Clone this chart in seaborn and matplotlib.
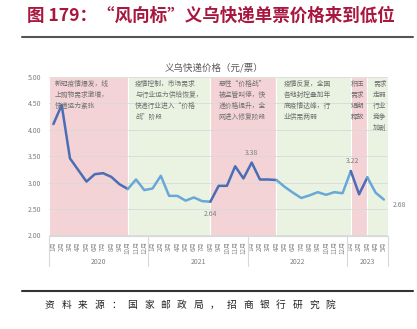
import numpy as np
import pandas as pd
import matplotlib
matplotlib.use("Agg")
import matplotlib.pyplot as plt
from matplotlib.lines import Line2D
import seaborn as sns

sns.set_theme(style="white")
plt.rcParams["font.family"] = ["Noto Sans CJK SC", "DejaVu Sans"]
plt.rcParams["axes.unicode_minus"] = False

# Monthly Yiwu express price (yuan per parcel), Jan 2020 - May 2023
years = ["2020", "2021", "2022", "2023"]
months_per_year = [12, 12, 12, 5]
price = [4.11, 4.47, 3.46, 3.24, 3.02, 3.16, 3.18, 3.11, 2.97, 2.88, 3.06, 2.86,
         2.89, 3.13, 2.75, 2.75, 2.66, 2.72, 2.65, 2.64, 2.94, 2.94, 3.31, 3.08,
         3.38, 3.06, 3.06, 3.05, 2.92, 2.81, 2.71, 2.76, 2.82, 2.77, 2.82, 2.80,
         3.22, 2.78, 3.10, 2.81, 2.68]

# Market phases: (first month index, last month index, kind)
phase_start = [0, 9, 19, 27, 36, 38]
phase_end = [9, 19, 27, 36, 38, 40]
phase_kind = ["pink", "green", "pink", "green", "pink", "green"]
phase_text = [
    "新冠疫情爆发，线\n上购物需求激增，\n快递运力紧张",
    "疫情控制，市场需求\n与行业运力供给恢复，\n快递行业进入“价格\n战”阶段",
    "恶性“价格战”\n被监管叫停，快\n递价格提升，全\n网进入修复阶段",
    "疫情反复，全国\n各地封控叠加年\n底疫情达峰，行\n业供需两弱",
    "积压\n需求\n短期\n释放",
    "需求\n走弱\n行业\n竞争\n加剧",
]

# Months whose value is printed next to the line
label_idx = [19, 24, 36, 40]

bg_color = {"pink": "#f3d3d6", "green": "#eaf2e2"}
line_color = {"pink": "#4a6db3", "green": "#68a8d8"}

month_labels = [f"{m}月" for n in months_per_year for m in range(1, n + 1)]
n = len(price)
x = np.arange(n)

# Long table: one group per phase, each sharing its end points with neighbours
rows = []
for k, (a, b, kind) in enumerate(zip(phase_start, phase_end, phase_kind)):
    for i in range(a, b + 1):
        rows.append({"idx": i, "price": price[i], "seg": f"s{k}", "kind": kind})
df = pd.DataFrame(rows)
palette = {f"s{k}": line_color[kind] for k, kind in enumerate(phase_kind)}

W, H = 417, 329
fig = plt.figure(figsize=(W / 100, H / 100), dpi=100)
ax = fig.add_axes([49.3 / W, 1 - 235.5 / H, (388 - 49.3) / W, (235.5 - 77) / H])

# Phase backgrounds
for k, (a, b, kind) in enumerate(zip(phase_start, phase_end, phase_kind)):
    lo = -0.5 if k == 0 else a
    hi = n - 0.5 if k == len(phase_start) - 1 else b
    ax.axvspan(lo, hi, facecolor=bg_color[kind], edgecolor="white",
               linewidth=0.8, zorder=0.1)

sns.lineplot(data=df, x="idx", y="price", hue="seg", palette=palette,
             units="seg", estimator=None, sort=False, linewidth=1.8,
             legend=False, ax=ax, zorder=3)

ax.set_xlim(-0.5, n - 0.5)
ax.set_ylim(2.0, 5.0)
ax.set_yticks(np.arange(2.0, 5.01, 0.5))
ax.set_yticklabels([f"{v:.2f}" for v in np.arange(2.0, 5.01, 0.5)],
                   fontsize=5, color="#7f7f7f")
ax.set_axisbelow(True)
ax.yaxis.grid(True, color="#d9d9d9", linewidth=0.6)
ax.tick_params(axis="y", length=0, pad=6)
ax.set_xticks(x)
ax.set_xticklabels(month_labels, rotation=90, fontsize=4.5, color="#8a8a8a")
ax.tick_params(axis="x", length=0, pad=4)
ax.set_xlabel("")
ax.set_ylabel("")
for s in ["top", "right", "left"]:
    ax.spines[s].set_visible(False)
ax.spines["bottom"].set_color("#d9d9d9")
ax.spines["bottom"].set_linewidth(0.8)

# Year group labels and separators under the month axis
trans = ax.get_xaxis_transform()
edges = np.concatenate([[0], np.cumsum(months_per_year)]) - 0.5
for e in edges:
    ax.add_line(Line2D([e, e], [0, -0.19], transform=trans, color="#d9d9d9",
                       linewidth=0.8, clip_on=False))
for y_lab, a, b in zip(years, edges[:-1], edges[1:]):
    ax.text((a + b) / 2, -0.165, y_lab, transform=trans, ha="center",
            va="center", fontsize=5, color="#7f7f7f")

# Phase descriptions
text_x = [0.2, 9.9, 20.0, 27.9, 36.0, 38.7]
for tx, t in zip(text_x, phase_text):
    ax.text(tx, 4.94, t, ha="left", va="top", fontsize=4.9, color="#6e6e6e",
            linespacing=1.5, zorder=4, clip_on=False)

# Value labels
offsets = {19: (0, -9, "center"), 24: (0, 7, "center"),
           36: (1, 7, "center"), 40: (11, -4, "center")}
for i in label_idx:
    dx, dy, ha = offsets[i]
    ax.annotate(f"{price[i]:.2f}", (x[i], price[i]), xytext=(dx, dy),
                textcoords="offset points", ha=ha, va="center",
                fontsize=5, color="#7f7f7f", annotation_clip=False)

# Chart heading and frame texts
fig.text(214 / W, 1 - 68 / H, "义乌快递价格（元/票）", ha="center", va="center",
         fontsize=6.8, color="#595959")
fig.text(27 / W, 1 - 16 / H, "图 179：“风向标”义乌快递单票价格来到低位",
         ha="left", va="center", fontsize=12.6, fontweight="bold",
         color="#a8173e")
fig.add_artist(Line2D([22 / W, 413 / W], [1 - 36.7 / H, 1 - 36.7 / H],
                      transform=fig.transFigure, color="#555555", linewidth=1.5))
fig.add_artist(Line2D([22 / W, 413 / W], [1 - 291 / H, 1 - 291 / H],
                      transform=fig.transFigure, color="#333333", linewidth=1.5))
source = "资料来源：国家邮政局，招商银行研究院"
for j, ch in enumerate(source):
    fig.text((45 + j * 16.5) / W, 1 - 305 / H, ch, ha="left", va="center",
             fontsize=7, color="#222222")

fig.savefig("out.png", dpi=100)
